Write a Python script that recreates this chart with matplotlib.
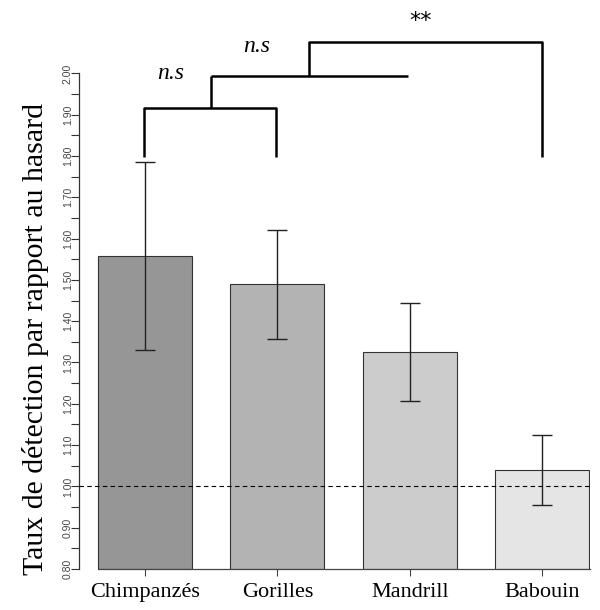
import matplotlib
matplotlib.use("Agg")
import matplotlib.pyplot as plt
import numpy as np

# Detection rate relative to chance, per species
species = ["Chimpanzés", "Gorilles", "Mandrill", "Babouin"]
means = [1.558, 1.490, 1.325, 1.040]
errors = [0.227, 0.132, 0.119, 0.085]
bar_colors = ["#969696", "#b3b3b3", "#cccccc", "#e5e5e5"]
ytick_values = [0.80, 0.90, 1.00, 1.10, 1.20, 1.30, 1.40, 1.50, 1.60, 1.70, 1.80, 1.90, 2.00]
ytick_labels = ["0.80", "0.90", "1.00", "1.10", "1.20", "1.30", "1.40", "1.50", "1.60", "1.70", "1.80", "1.90", "2.00"]

W, H = 600, 610
fig = plt.figure(figsize=(W / 100, H / 100), dpi=100)
ax = fig.add_axes([79 / W, (H - 569) / H, (590 - 79) / W, 569 / H])

serif = ["Liberation Serif", "DejaVu Serif"]
x = np.arange(len(species))
ax.bar(x, [m - 0.8 for m in means], bottom=0.8, width=0.71, color=bar_colors,
       edgecolor="#333333", linewidth=0.8, zorder=2)
ax.errorbar(x, means, yerr=errors, fmt="none", ecolor="#222222",
            elinewidth=1.0, capsize=7.5, capthick=1.0, zorder=3)

# chance level
ax.axhline(1.0, color="black", linestyle=(0, (4, 3)), linewidth=0.8, zorder=4)

ax.set_xlim(-0.5, 3.363)
ax.set_ylim(0.8, 0.8 + 569 / 413)
ax.spines["top"].set_visible(False)
ax.spines["right"].set_visible(False)
ax.spines["left"].set_bounds(0.8, 2.0)
ax.spines["bottom"].set_bounds(-0.355, 3.363)
ax.spines["left"].set_color("#333333")
ax.spines["bottom"].set_color("#444444")
ax.spines["left"].set_linewidth(0.9)
ax.spines["bottom"].set_linewidth(0.9)

ax.set_yticks(ytick_values)
ax.set_yticklabels(ytick_labels, rotation=90, va="center", fontsize=7.5,
                   family=["Liberation Sans", "DejaVu Sans"], color="#444444")
ax.set_yticks(np.arange(0.85, 2.0, 0.1), minor=True)
ax.tick_params(axis="y", which="both", length=6, width=0.8, pad=-1.5, color="#333333")

ax.set_xticks(x)
ax.set_xticklabels(species, fontsize=16, family=serif)
ax.tick_params(axis="x", length=5, width=0.8, pad=5, color="#444444")

fig.text(36 / W, 1 - 339 / H, "Taux de détection par rapport au hasard",
         fontsize=21.5, family=serif, rotation=90, ha="center", va="center")

# significance brackets
lw = 1.8
kw = dict(color="black", linewidth=lw, solid_capstyle="butt", clip_on=False, zorder=5)
xl, xr = -0.005, 0.99
xm1 = 0.5
y_low, y1 = 1.798, 1.916
ax.plot([xl, xl, xr, xr], [y_low, y1, y1, y_low], **kw)
y2 = 1.994
ax.plot([xm1, xm1], [y1, y2], **kw)
ax.plot([xm1, 1.99], [y2, y2], **kw)
xm2 = 1.24
y3 = 2.076
xb = 3.0
ax.plot([xm2, xm2, xb, xb], [y2, y3, y3, y_low], **kw)

ax.text(0.19, 2.0, "n.s", fontsize=17, style="italic", family=serif,
        ha="center", va="center")
ax.text(0.84, 2.064, "n.s", fontsize=17, style="italic", family=serif,
        ha="center", va="center")
ax.text(2.08, 2.127, "**", fontsize=16, family=["DejaVu Sans"],
        ha="center", va="center")

fig.savefig("out.png", dpi=100, facecolor="white")
